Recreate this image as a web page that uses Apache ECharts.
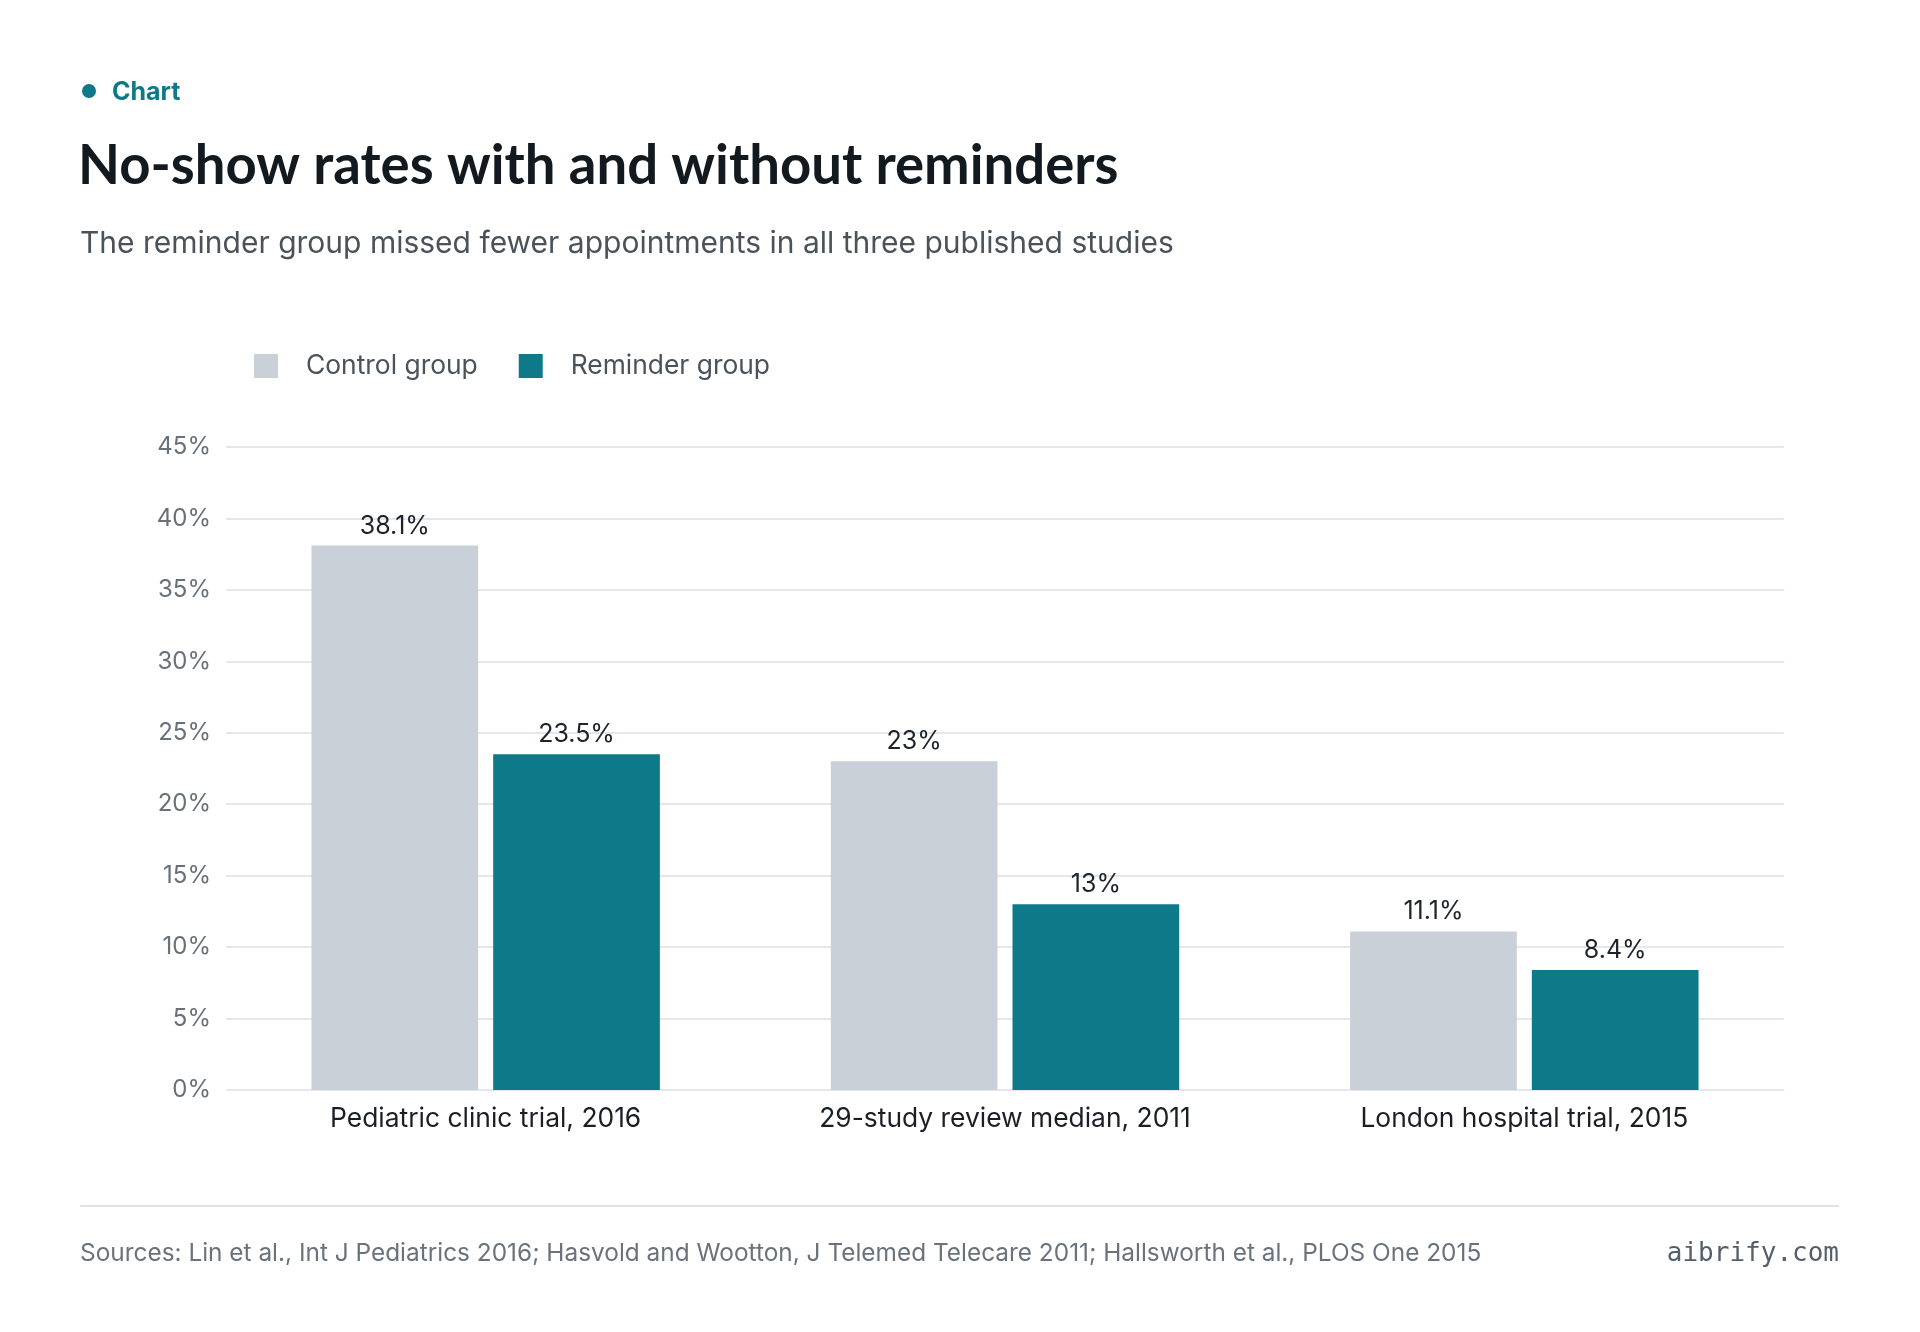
<!DOCTYPE html>
<html>
<head>
<meta charset="utf-8">
<title>No-show rates with and without reminders</title>
<script src="https://cdn.jsdelivr.net/npm/echarts@6/dist/echarts.min.js"></script>
<style>
  html, body { margin: 0; padding: 0; background: #ffffff; }
  #chart { width: 1920px; height: 1332px; }
</style>
</head>
<body>
<div id="chart"></div>
<script>
// studies shown on the x axis
var categories = ['Pediatric clinic trial, 2016', '29-study review median, 2011', 'London hospital trial, 2015'];
// no-show rate, percent
var controlGroup = [38.1, 23, 11.1];
var reminderGroup = [23.5, 13, 8.4];
var seriesNames = ['Control group', 'Reminder group'];

var teal = '#0e7a89';
var grey = '#c9d0d7';
var font = 'Inter';

var chart = echarts.init(document.getElementById('chart'), null, { renderer: 'canvas' });

var option = {
  backgroundColor: '#ffffff',
  animation: false,
  textStyle: { fontFamily: font },
  title: [{
    text: 'Chart',
    left: 112, top: 80, padding: 0,
    textStyle: { fontSize: 25, fontWeight: 'bold', color: teal, fontFamily: font }
  }, {
    text: 'No-show rates with and without reminders',
    left: 78, top: 139, padding: 0,
    textStyle: { fontSize: 54.5, fontWeight: 'bold', color: '#121a1f', fontFamily: 'Lato' }
  }, {
    text: 'The reminder group missed fewer appointments in all three published studies',
    left: 80, top: 229, padding: 0,
    textStyle: { fontSize: 30, fontWeight: 'normal', color: '#4a525a', fontFamily: font }
  }, {
    text: 'Sources: Lin et al., Int J Pediatrics 2016; Hasvold and Wootton, J Telemed Telecare 2011; Hallsworth et al., PLOS One 2015',
    left: 80, top: 1242, padding: 0,
    textStyle: { fontSize: 24.4, fontWeight: 'normal', color: '#6a737c', fontFamily: font }
  }, {
    text: 'aibrify.com',
    right: 81, top: 1241, padding: 0,
    textStyle: { fontSize: 26, fontWeight: 'normal', color: '#555f69', fontFamily: 'DejaVu Sans Mono' }
  }],
  graphic: [{
    type: 'circle',
    shape: { cx: 89, cy: 91, r: 7 },
    style: { fill: teal }
  }, {
    type: 'line',
    shape: { x1: 80, y1: 1206, x2: 1839, y2: 1206 },
    style: { stroke: '#dfe3e7', lineWidth: 2 }
  }],
  legend: {
    data: seriesNames,
    left: 254, top: 353, padding: 0,
    icon: 'rect',
    itemWidth: 24, itemHeight: 24,
    itemGap: 41,
    textStyle: { fontSize: 26.4, color: '#4a525a', fontFamily: font, padding: [0, 0, 0, 23] }
  },
  grid: { left: 226, right: 136, top: 447, bottom: 242, containLabel: false },
  xAxis: {
    type: 'category',
    data: categories,
    axisLine: { show: false },
    axisTick: { show: false },
    axisLabel: { fontSize: 26.4, color: '#1a1f24', margin: 16, fontFamily: font }
  },
  yAxis: {
    type: 'value',
    min: 0, max: 45, interval: 5,
    axisLine: { show: false },
    axisTick: { show: false },
    axisLabel: { formatter: '{value}%', fontSize: 24, color: '#68717a', margin: 15, fontFamily: font },
    splitLine: { lineStyle: { color: '#e4e7eb', width: 2 } }
  },
  series: [{
    name: seriesNames[0],
    type: 'bar',
    data: controlGroup,
    barWidth: '32.1%',
    barGap: '9%',
    itemStyle: { color: grey },
    label: { show: true, position: 'top', distance: 7, formatter: '{c}%', fontSize: 25, color: '#1d2329', fontFamily: font }
  }, {
    name: seriesNames[1],
    type: 'bar',
    data: reminderGroup,
    barWidth: '32.1%',
    barGap: '9%',
    itemStyle: { color: teal },
    label: { show: true, position: 'top', distance: 7, formatter: '{c}%', fontSize: 25, color: '#1d2329', fontFamily: font }
  }]
};

chart.setOption(option);
</script>
</body>
</html>
